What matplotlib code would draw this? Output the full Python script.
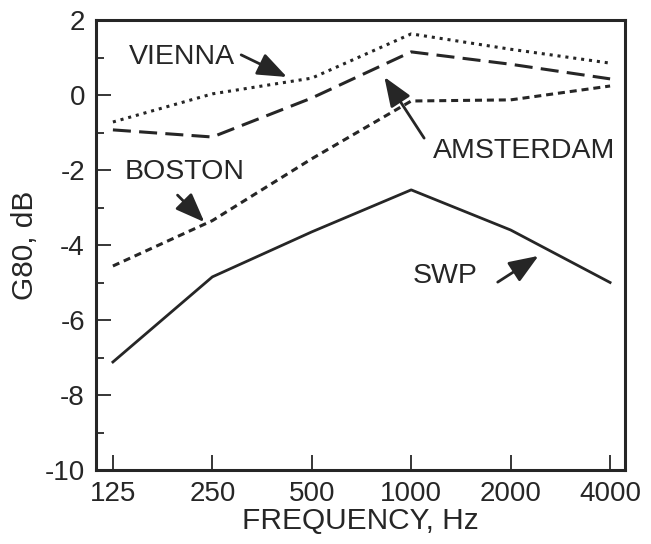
import matplotlib
matplotlib.use("Agg")
import matplotlib.pyplot as plt
from matplotlib.ticker import MultipleLocator

# data
freqs = ["125", "250", "500", "1000", "2000", "4000"]
vienna = [-0.72, 0.03, 0.45, 1.63, 1.22, 0.85]
amsterdam = [-0.93, -1.12, -0.08, 1.15, 0.82, 0.43]
boston = [-4.56, -3.35, -1.7, -0.16, -0.13, 0.24]
swp = [-7.12, -4.85, -3.65, -2.53, -3.6, -5.0]

plt.rcParams['font.family'] = ['Liberation Sans', 'DejaVu Sans']
plt.rcParams['axes.unicode_minus'] = False
ink = '#262626'
fs = 20

fig = plt.figure(figsize=(6.51, 5.44), dpi=100)
ax = fig.add_axes([96 / 651, 1 - 470 / 544, (625 - 96) / 651, (470 - 20) / 544])

x = list(range(len(freqs)))
ax.plot(x, vienna, color=ink, lw=2.2, linestyle=(0, (1, 1.6)))
ax.plot(x, amsterdam, color=ink, lw=2.2, linestyle=(0, (5.9, 2.7)))
ax.plot(x, boston, color=ink, lw=2.2, linestyle=(0, (2.3, 1.6)))
ax.plot(x, swp, color=ink, lw=2.0, linestyle='-')

ax.set_xlim(-0.17, 5.15)
ax.set_ylim(-10, 2)
ax.set_xticks(x)
ax.set_xticklabels(freqs)
ax.yaxis.set_major_locator(MultipleLocator(2))
ax.yaxis.set_minor_locator(MultipleLocator(1))
ax.tick_params(axis='both', which='major', direction='in', length=11, width=1.3,
               color=ink, labelsize=fs, labelcolor=ink, pad=8)
ax.tick_params(axis='y', which='minor', direction='in', length=6, width=1.3, color=ink)
for s in ax.spines.values():
    s.set_linewidth(2.2)
    s.set_color(ink)

ax.set_xlabel("FREQUENCY, Hz", fontsize=21.5, color=ink, labelpad=0)
ax.set_ylabel("G80, dB", fontsize=21.5, color=ink, labelpad=4)

arrow = dict(arrowstyle='-|>,head_length=0.9,head_width=0.35', color=ink, lw=2,
             mutation_scale=20, shrinkA=0, shrinkB=0)
afs = 20.5
ax.text(0.69, 1.01, "VIENNA", fontsize=afs, color=ink, ha='center', va='center')
ax.annotate("", xy=(1.75, 0.48), xytext=(1.29, 1.07), arrowprops=arrow)
ax.text(4.14, -1.5, "AMSTERDAM", fontsize=afs, color=ink, ha='center', va='center')
ax.annotate("", xy=(2.73, 0.48), xytext=(3.13, -1.15), arrowprops=arrow)
ax.text(0.72, -2.05, "BOSTON", fontsize=afs, color=ink, ha='center', va='center')
ax.annotate("", xy=(0.92, -3.39), xytext=(0.65, -2.67), arrowprops=arrow)
ax.text(3.34, -4.83, "SWP", fontsize=afs, color=ink, ha='center', va='center')
ax.annotate("", xy=(4.28, -4.29), xytext=(3.87, -4.99), arrowprops=arrow)

fig.savefig("out.png", dpi=100)
